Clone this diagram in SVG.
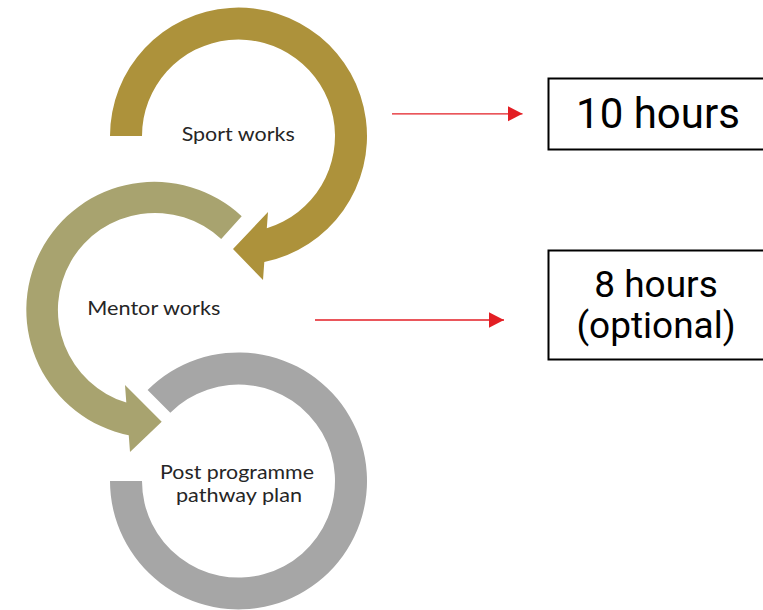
<svg xmlns="http://www.w3.org/2000/svg" width="763" height="610" viewBox="0 0 763 610">
  <style>
    .lbl { font-family: Lato, "Open Sans", "Liberation Sans", sans-serif; font-size: 19px; fill: #262626; }
    .box { fill: #FFFFFF; stroke: #000000; stroke-width: 2; }
    .boxtxt { font-family: Roboto, "Liberation Sans", sans-serif; fill: #000000; text-anchor: middle; }
    .conn { stroke: #E31E24; stroke-width: 1.3; fill: none; }
  </style>
  <defs>
    <marker id="ah" markerUnits="userSpaceOnUse" markerWidth="16" markerHeight="16" refX="15" refY="7.8" orient="auto">
      <path d="M0,0 L15,7.8 L0,15.6 Z" fill="#E31E24"/>
    </marker>
  </defs>
  <rect width="763" height="610" fill="#FFFFFF"/>

  <g id="sport-works">
    <path d="M110,136 A128.5,128.5 0 1 1 264.3,262 L263,280 L233,249 L268,212 L266.8,228.3 A96.5,96.5 0 1 0 142,136 Z" fill="#AD923B"/>
    <text class="lbl" x="181.7" y="141" textLength="113" lengthAdjust="spacingAndGlyphs">Sport works</text>
  </g>

  <g id="mentor-works">
    <path d="M241.7,216.3 A128,128 0 1 0 128.75,435.25 L130,452 L161.7,421.7 L125,385 L126.3,402.6 A97,97 0 1 1 221.2,239.1 Z" fill="#A8A36F"/>
    <text class="lbl" x="87.3" y="315" textLength="133" lengthAdjust="spacingAndGlyphs">Mentor works</text>
  </g>

  <g id="post-programme">
    <path d="M110,481 A128.5,128.5 0 1 0 147.6,390.1 L170.3,412.8 A96.5,96.5 0 1 1 142,481 Z" fill="#A6A6A6"/>
    <text class="lbl" x="160" y="479" textLength="154" lengthAdjust="spacingAndGlyphs">Post programme</text>
    <text class="lbl" x="176" y="501.5" textLength="126" lengthAdjust="spacingAndGlyphs">pathway plan</text>
  </g>

  <g id="ten-hours">
    <rect class="box" x="548.5" y="78.5" width="230" height="71"/>
    <text class="boxtxt" x="658" y="128" font-size="42">10 hours</text>
  </g>

  <g id="eight-hours">
    <rect class="box" x="548.5" y="250.5" width="230" height="109"/>
    <text class="boxtxt" x="656" y="297" font-size="37">8 hours</text>
    <text class="boxtxt" x="656" y="338" font-size="37">(optional)</text>
  </g>

  <g id="connectors">
    <line class="conn" x1="392" y1="113.8" x2="522.5" y2="113.8" marker-end="url(#ah)"/>
    <line class="conn" x1="315" y1="320" x2="504" y2="320" marker-end="url(#ah)"/>
  </g>
</svg>
